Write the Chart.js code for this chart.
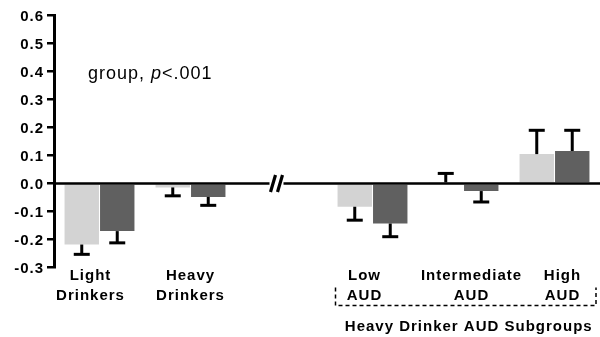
<!DOCTYPE html>
<html>
<head>
<meta charset="utf-8">
<script src="https://cdn.jsdelivr.net/npm/chart.js@4.4.0/dist/chart.umd.min.js"></script>
<style>
html,body{margin:0;padding:0;background:#fff;}
canvas{display:block;}
</style>
</head>
<body>
<canvas id="c" width="600" height="337"></canvas>
<script>
// ---- data ----
const categories = [['Light','Drinkers'], ['Heavy','Drinkers'], '', ['Low','AUD'], ['Intermediate','AUD'], ['High','AUD']];
const lightMeans = [-0.218, -0.014, null, -0.083, 0.004, 0.105];
const lightSEM   = [0.035, 0.030, null, 0.048, 0.032, 0.085];
const darkMeans  = [-0.170, -0.048, null, -0.143, -0.027, 0.116];
const darkSEM    = [0.042, 0.030, null, 0.047, 0.039, 0.074];
const yTicksMin = -0.3, yTicksMax = 0.6, yStep = 0.1;
const annotationText = ['group, ', 'p', '<.001'];
const subgroupLabel = 'Heavy Drinker AUD Subgroups';

const FONT = '"Liberation Sans", Arial, sans-serif';
const LIGHT = '#d3d3d3', DARK = '#606060';

const overlayPlugin = {
  id: 'overlay',
  afterDatasetsDraw(chart){
    const ctx = chart.ctx;
    const y = chart.scales.y, x = chart.scales.x;
    const area = chart.chartArea;
    const y0 = y.getPixelForValue(0);
    ctx.save();
    // error bars
    const sets = [[lightMeans, lightSEM], [darkMeans, darkSEM]];
    sets.forEach((s, di) => {
      const meta = chart.getDatasetMeta(di);
      s[0].forEach((m, i) => {
        if (m === null) return;
        const px = meta.data[i].x;
        const dir = m >= 0 ? 1 : -1;
        const yb = y.getPixelForValue(m);
        const ye = y.getPixelForValue(m + dir * s[1][i]);
        ctx.strokeStyle = '#000';
        ctx.lineWidth = 3;
        ctx.lineCap = 'butt';
        ctx.beginPath();
        ctx.moveTo(px, yb);
        ctx.lineTo(px, ye);
        ctx.stroke();
        ctx.beginPath();
        ctx.moveTo(px - 8, ye);
        ctx.lineTo(px + 8, ye);
        ctx.stroke();
      });
    });
    // zero line with break
    const bx = x.getPixelForValue(2) - 3;
    ctx.lineWidth = 2.5;
    ctx.strokeStyle = '#000';
    ctx.beginPath();
    ctx.moveTo(area.left, y0);
    ctx.lineTo(bx - 9, y0);
    ctx.moveTo(bx + 5, y0);
    ctx.lineTo(area.right, y0);
    ctx.stroke();
    ctx.lineWidth = 3.2;
    ctx.beginPath();
    ctx.moveTo(bx - 8, y0 + 8.5);
    ctx.lineTo(bx - 3, y0 - 8.5);
    ctx.moveTo(bx - 1, y0 + 8.5);
    ctx.lineTo(bx + 4, y0 - 8.5);
    ctx.stroke();

    ctx.letterSpacing = '1px';
    ctx.fillStyle = '#000';
    // y tick labels, positioned by the library's y scale
    ctx.font = 'bold 15px ' + FONT;
    ctx.textAlign = 'right';
    ctx.textBaseline = 'middle';
    y.ticks.forEach(t => {
      ctx.fillText(Number(t.value).toFixed(1), area.left - 10, y.getPixelForValue(t.value) + 1);
    });
    // x category labels (offset slightly as in the original figure)
    const labelShift = [-9, 0, 0, -8, 8, 8];
    ctx.textAlign = 'center';
    ctx.textBaseline = 'alphabetic';
    categories.forEach((lab, i) => {
      if (!Array.isArray(lab)) return;
      const cx = x.getPixelForValue(i) + labelShift[i];
      lab.forEach((line, k) => ctx.fillText(line, cx, area.bottom + 12 + k * 20));
    });
    // annotation
    ctx.textAlign = 'left';
    let tx = area.left + 34;
    const ty = y.getPixelForValue(0.4) + 7;
    annotationText.forEach((t, i) => {
      ctx.font = (i === 1 ? 'italic ' : '') + '18px ' + FONT;
      ctx.fillText(t, tx, ty);
      tx += ctx.measureText(t).width;
    });
    // dashed box
    const xl = x.getPixelForValue(3) - 37, xr = area.right - 4;
    const yt = area.bottom + 20, ybt = area.bottom + 38;
    ctx.setLineDash([4, 3]);
    ctx.lineWidth = 1.5;
    ctx.beginPath();
    ctx.moveTo(xl, yt);
    ctx.lineTo(xl, ybt);
    ctx.lineTo(xr, ybt);
    ctx.lineTo(xr, yt);
    ctx.stroke();
    ctx.setLineDash([]);
    ctx.font = 'bold 15px ' + FONT;
    ctx.textAlign = 'center';
    ctx.fillText(subgroupLabel, (xl + xr) / 2 + 3, area.bottom + 63);
    ctx.restore();
  }
};

new Chart(document.getElementById('c'), {
  type: 'bar',
  data: {
    labels: categories,
    datasets: [
      { data: lightMeans, backgroundColor: LIGHT, borderWidth: 0 },
      { data: darkMeans, backgroundColor: DARK, borderWidth: 0 }
    ]
  },
  options: {
    responsive: false,
    animation: false,
    devicePixelRatio: 1,
    layout: { padding: { top: 15.5, right: 0, left: 0, bottom: 0 } },
    plugins: { legend: { display: false }, tooltip: { enabled: false } },
    datasets: { bar: { categoryPercentage: 0.78, barPercentage: 0.97 } },
    scales: {
      x: {
        grid: { display: false, drawTicks: false },
        border: { display: false },
        ticks: { display: false },
        afterFit(s){ s.height = 69.5; }
      },
      y: {
        min: yTicksMin, max: yTicksMax,
        grid: { drawOnChartArea: false, drawTicks: true, tickLength: 7, color: '#000', lineWidth: 2.5 },
        border: { display: true, color: '#000', width: 3 },
        ticks: {
          stepSize: yStep,
          color: 'rgba(0,0,0,0)',
          padding: 3,
          font: { family: FONT, size: 15, weight: 'bold' },
          callback: v => Number(v).toFixed(1)
        },
        afterFit(s){ s.width = 54; }
      }
    }
  },
  plugins: [overlayPlugin]
});
</script>
</body>
</html>
